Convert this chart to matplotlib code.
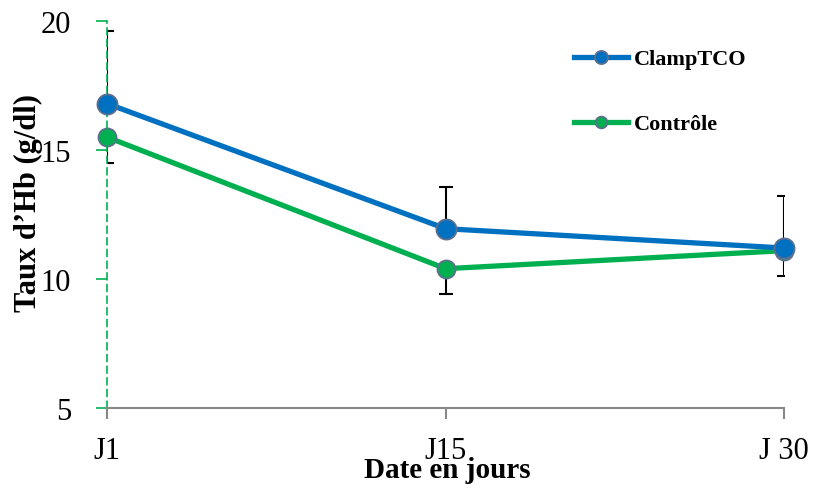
import matplotlib.pyplot as plt
import numpy as np

# data
days = ['J1', 'J15', 'J 30']
clamp = [16.8, 11.95, 11.2]
clamp_err_up = [2.8, 1.6, 2.0]
controle = [15.5, 10.4, 11.1]
controle_err_down = [1.0, 1.0, 1.0]

plt.rcParams['font.family'] = ['Liberation Serif', 'DejaVu Serif']

fig = plt.figure(figsize=(8.17, 4.89), dpi=100)
ax = fig.add_axes([0.131, 0.1636, 0.829, 0.7914])
x = np.arange(len(days))

blue = '#0070C0'
green = '#00B050'
edge = '#5E6F8F'

# error bars (upper for ClampTCO, lower for Contrôle) behind the lines
ax.errorbar(x, clamp, yerr=[np.zeros(3), clamp_err_up], fmt='none',
            ecolor='black', elinewidth=1.5, capsize=5, capthick=1.5, zorder=1)
ax.errorbar(x, controle, yerr=[controle_err_down, np.zeros(3)], fmt='none',
            ecolor='black', elinewidth=1.5, capsize=5, capthick=1.5, zorder=1)

ax.plot(x, clamp, color=blue, lw=3.8, marker='o', ms=14.5, mfc=blue,
        mec=edge, mew=1.3, label='ClampTCO', zorder=3, clip_on=False)
ax.plot(x, controle, color=green, lw=3.8, marker='o', ms=13, mfc=green,
        mec=edge, mew=1.3, label='Contrôle', zorder=2, clip_on=False)

ax.set_xlim(0, 2)
ax.set_ylim(5, 20)
ax.set_yticks([5, 10, 15, 20])
ax.set_xticks(x)
ax.set_xticklabels(days)

for s in ['top', 'right']:
    ax.spines[s].set_visible(False)
ax.spines['left'].set_color(green)
ax.spines['left'].set_linestyle((0, (4, 3)))
ax.spines['left'].set_linewidth(1.2)
ax.spines['bottom'].set_color('#888888')
ax.spines['bottom'].set_linewidth(1.5)

ax.tick_params(axis='y', colors=green, length=8, width=1.2, pad=18,
               labelsize=22, labelcolor='black')
ax.tick_params(axis='x', colors='#888888', length=8, width=1.5, pad=12,
               labelsize=22, labelcolor='black')
for t in ax.yaxis.get_ticklines():
    t.set_linestyle((0, (3, 2)))

fig.text(28 / 817, 1 - 203 / 489, 'Taux d’Hb (g/dl)', rotation=90,
         ha='center', va='center', fontsize=22, fontweight='bold')
fig.text(447 / 817, 1 - 471 / 489, 'Date en jours', ha='center', va='center',
         fontsize=21, fontweight='bold')

leg = ax.legend(loc='upper left', bbox_to_anchor=(0.66, 0.98), frameon=False,
                prop={'size': 16, 'weight': 'bold'}, labelspacing=2.0,
                handlelength=2.45, handletextpad=0.25, markerscale=0.65)

fig.savefig('out.png', dpi=100)
